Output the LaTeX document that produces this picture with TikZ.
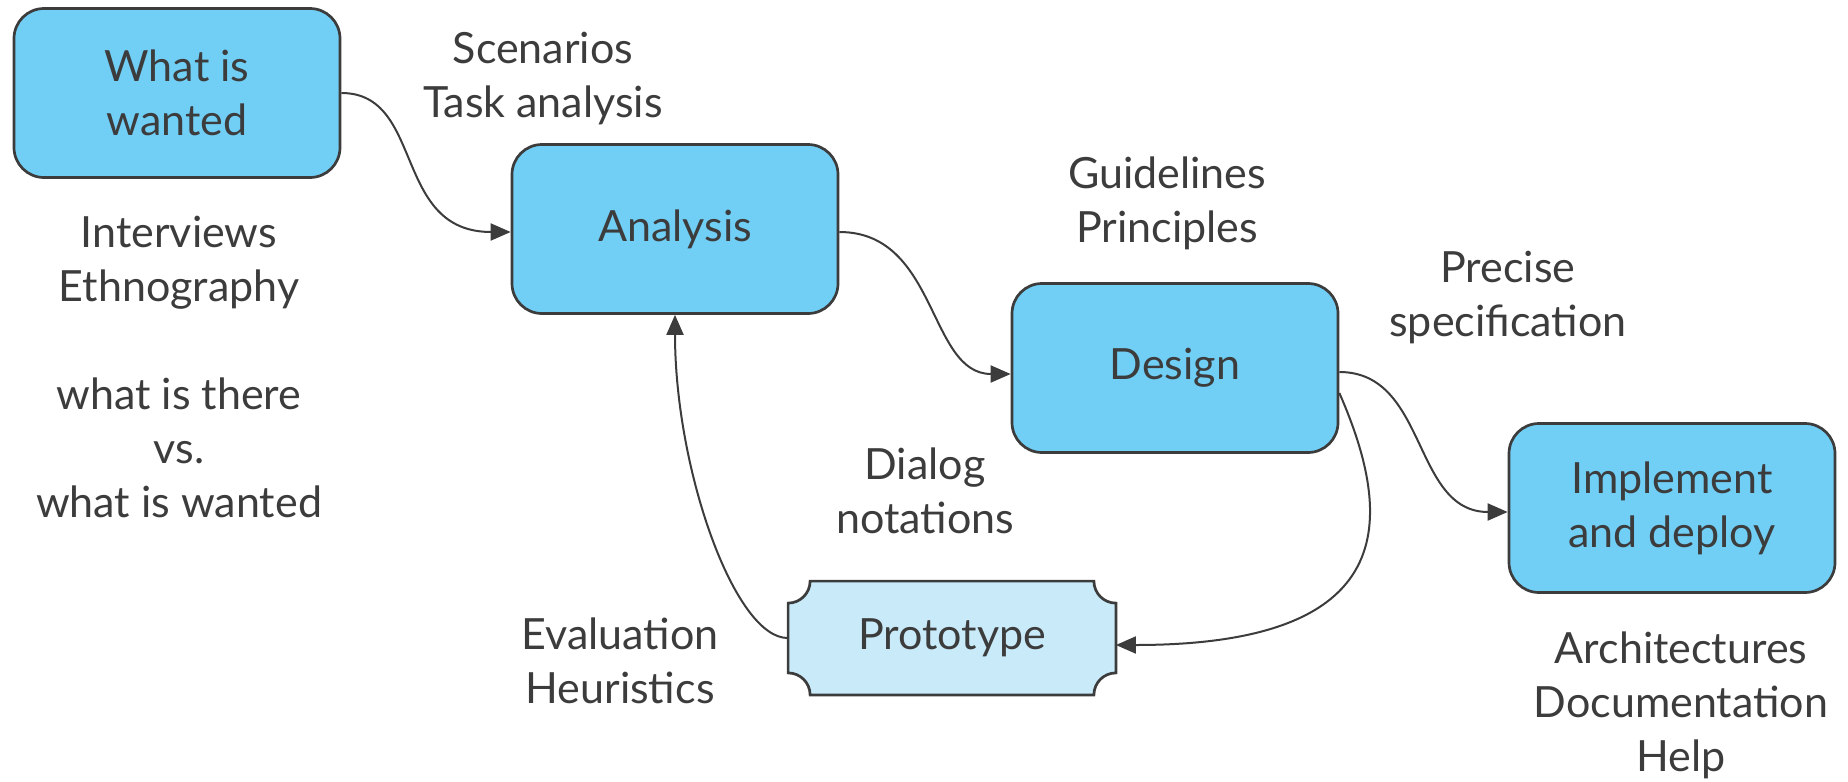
\documentclass[tikz,border=0pt]{standalone}
\usepackage{fontspec}
\setmainfont{Lato}
\usetikzlibrary{arrows.meta,backgrounds}
\definecolor{boxblue}{HTML}{71CEF5}
\definecolor{protoblue}{HTML}{C8EAF9}
\definecolor{ink}{HTML}{3C3C3C}
\begin{document}
\begin{tikzpicture}[x=0.5pt,y=-0.5pt,
  every node/.style={font=\fontsize{21.5pt}{27pt}\selectfont, text=ink},
  stagebox/.style={draw=ink, line width=1.35pt, fill=boxblue, rounded corners=15pt,
    minimum width=163pt, minimum height=84.5pt, inner sep=0pt, align=center},
  protobox/.style={minimum width=163.5pt, minimum height=56.5pt, inner sep=0pt},
  protoshape/.style={draw=ink, line width=1.35pt, fill=protoblue},
  note/.style={align=center, anchor=base, inner sep=0pt},
  conn/.style={draw=ink, line width=1pt},
  arr/.style={conn, -{Triangle[length=10pt,width=8.5pt]}}]
\useasboundingbox (0,0) rectangle (1848,782);
\node[stagebox] (want) at (177,93) {What is\\wanted};
\node[stagebox] (ana) at (675,229) {Analysis};
\node[stagebox] (des) at (1175,368) {Design};
\node[stagebox] (impl) at (1672,508) {Implement\\and deploy};
\node[protobox] (proto) at (952,638) {Prototype};
\begin{pgfonlayer}{background}
\draw[protoshape] ([xshift=11pt]proto.north west) -- ([xshift=-11pt]proto.north east)
  arc[start angle=180,end angle=270,radius=11pt] -- ([yshift=11pt]proto.south east)
  arc[start angle=90,end angle=180,radius=11pt] -- ([xshift=11pt]proto.south west)
  arc[start angle=0,end angle=90,radius=11pt] -- ([yshift=-11pt]proto.north west)
  arc[start angle=270,end angle=360,radius=11pt] -- cycle;
\end{pgfonlayer}
\node[note] (scen) at (543,117) {Scenarios\\Task analysis};
\node[note] (inter) at (179,517) {Interviews\\Ethnography\\[27pt]what is there\\vs.\\what is wanted};
\node[note] (guide) at (1167,242) {Guidelines\\Principles};
\node[note] (prec) at (1508,336) {Precise\\specification};
\node[note] (dial) at (925,533) {Dialog\\notations};
\node[note] (eval) at (620,703) {Evaluation\\Heuristics};
\node[note] (arch) at (1681,771) {Architectures\\Documentation\\Help};
\draw[arr] (want.east) .. controls (425,93) and (392,232) .. ([yshift=-1.5pt]ana.west);
\draw[arr] ([yshift=-1.5pt]ana.east) .. controls (938,232) and (928,374) .. ([yshift=-3pt]des.west);
\draw[arr] ([yshift=-2pt]des.east) .. controls (1428,372) and (1412,512) .. ([yshift=-2pt]impl.west);
\draw[arr] ([yshift=-12.5pt]des.east) .. controls (1395,520) and (1400,645) .. ([yshift=-3.5pt]proto.east);
\draw[arr] (proto.west) .. controls (735,639) and (675,470) .. (ana.south);
\end{tikzpicture}
\end{document}
